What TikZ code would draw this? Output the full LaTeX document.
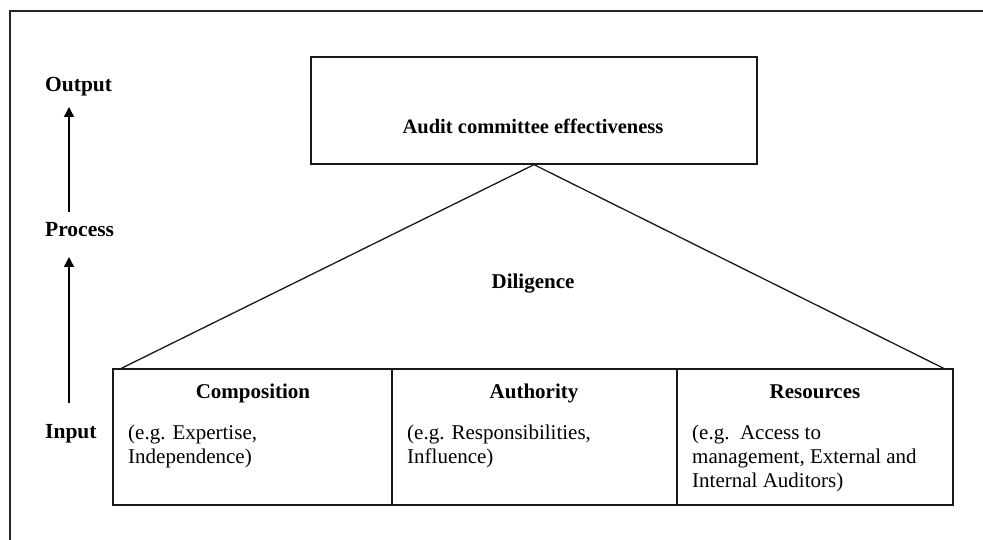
\documentclass[tikz,border=0pt]{standalone}
\usepackage{fontspec}
\setmainfont{Liberation Serif}
\usetikzlibrary{arrows.meta}
\begin{document}
\begin{tikzpicture}[x=1pt,y=-1pt,
  frame/.style={line width=1.3pt, draw=black!85},
  boxline/.style={line width=1.3pt, draw=black!90},
  cell/.style={boxline, rectangle, inner sep=0pt, minimum height=136pt},
  hd/.style={font=\fontsize{21}{24}\selectfont\bfseries, inner sep=0pt, anchor=base},
  lvl/.style={font=\fontsize{21.5}{24}\selectfont\bfseries, inner sep=0pt, anchor=base west},
  body/.style={font=\fontsize{21}{24}\selectfont, inner sep=0pt, anchor=north west, align=left},
  upar/.style={line width=1.3pt, -{Triangle[length=10pt,width=10pt]}}
]
\useasboundingbox (0,0) rectangle (983,540);
% open page frame: top and left sides
\draw[frame] (983,11) -- (10,11) -- (10,540);

% level labels with upward arrows
\node[lvl] (output)  at (45,92)  {Output};
\node[lvl] (process) at (45,237) {Process};
\node[lvl] (input)   at (45,438) {Input};
\coordinate (outfoot) at (69,107);
\coordinate (proctop) at (69,212);
\coordinate (procfoot) at (69,257);
\coordinate (inptop) at (69,403);
\draw[upar] (proctop) -- (outfoot);
\draw[upar] (inptop) -- (procfoot);

% outcome box
\node[boxline, rectangle, inner sep=0pt, minimum width=446pt, minimum height=107pt] (effect) at (534,110.5) {};
\node[hd, font=\fontsize{20.5}{24}\selectfont\bfseries] (effecttext) at (533,134) {Audit committee effectiveness};

% input cells
\node[cell, minimum width=279pt] (comp) at (252.5,437) {};
\node[cell, minimum width=285pt] (auth) at (534.5,437) {};
\node[cell, minimum width=276pt] (res)  at (815,437) {};

% diligence triangle
\coordinate (baseL) at (120,369);
\coordinate (baseR) at (945,369);
\draw[boxline, line join=miter] (baseL) -- (effect.south) -- (baseR);
\node[hd] (dil) at (533,289) {Diligence};

% cell headings
\node[hd] (comphd) at (253,398) {Composition};
\node[hd] (authhd) at (534,398) {Authority};
\node[hd] (reshd)  at (815,398) {Resources};

% cell examples
\node[body] (compbody) at (128,424.5) {(e.g. Expertise,\\Independence)};
\node[body] (authbody) at (407,424.5) {(e.g. Responsibilities,\\Influence)};
\node[body] (resbody)  at (692,424.5) {(e.g.\ \ Access to\\management, External and\\Internal Auditors)};
\end{tikzpicture}
\end{document}
